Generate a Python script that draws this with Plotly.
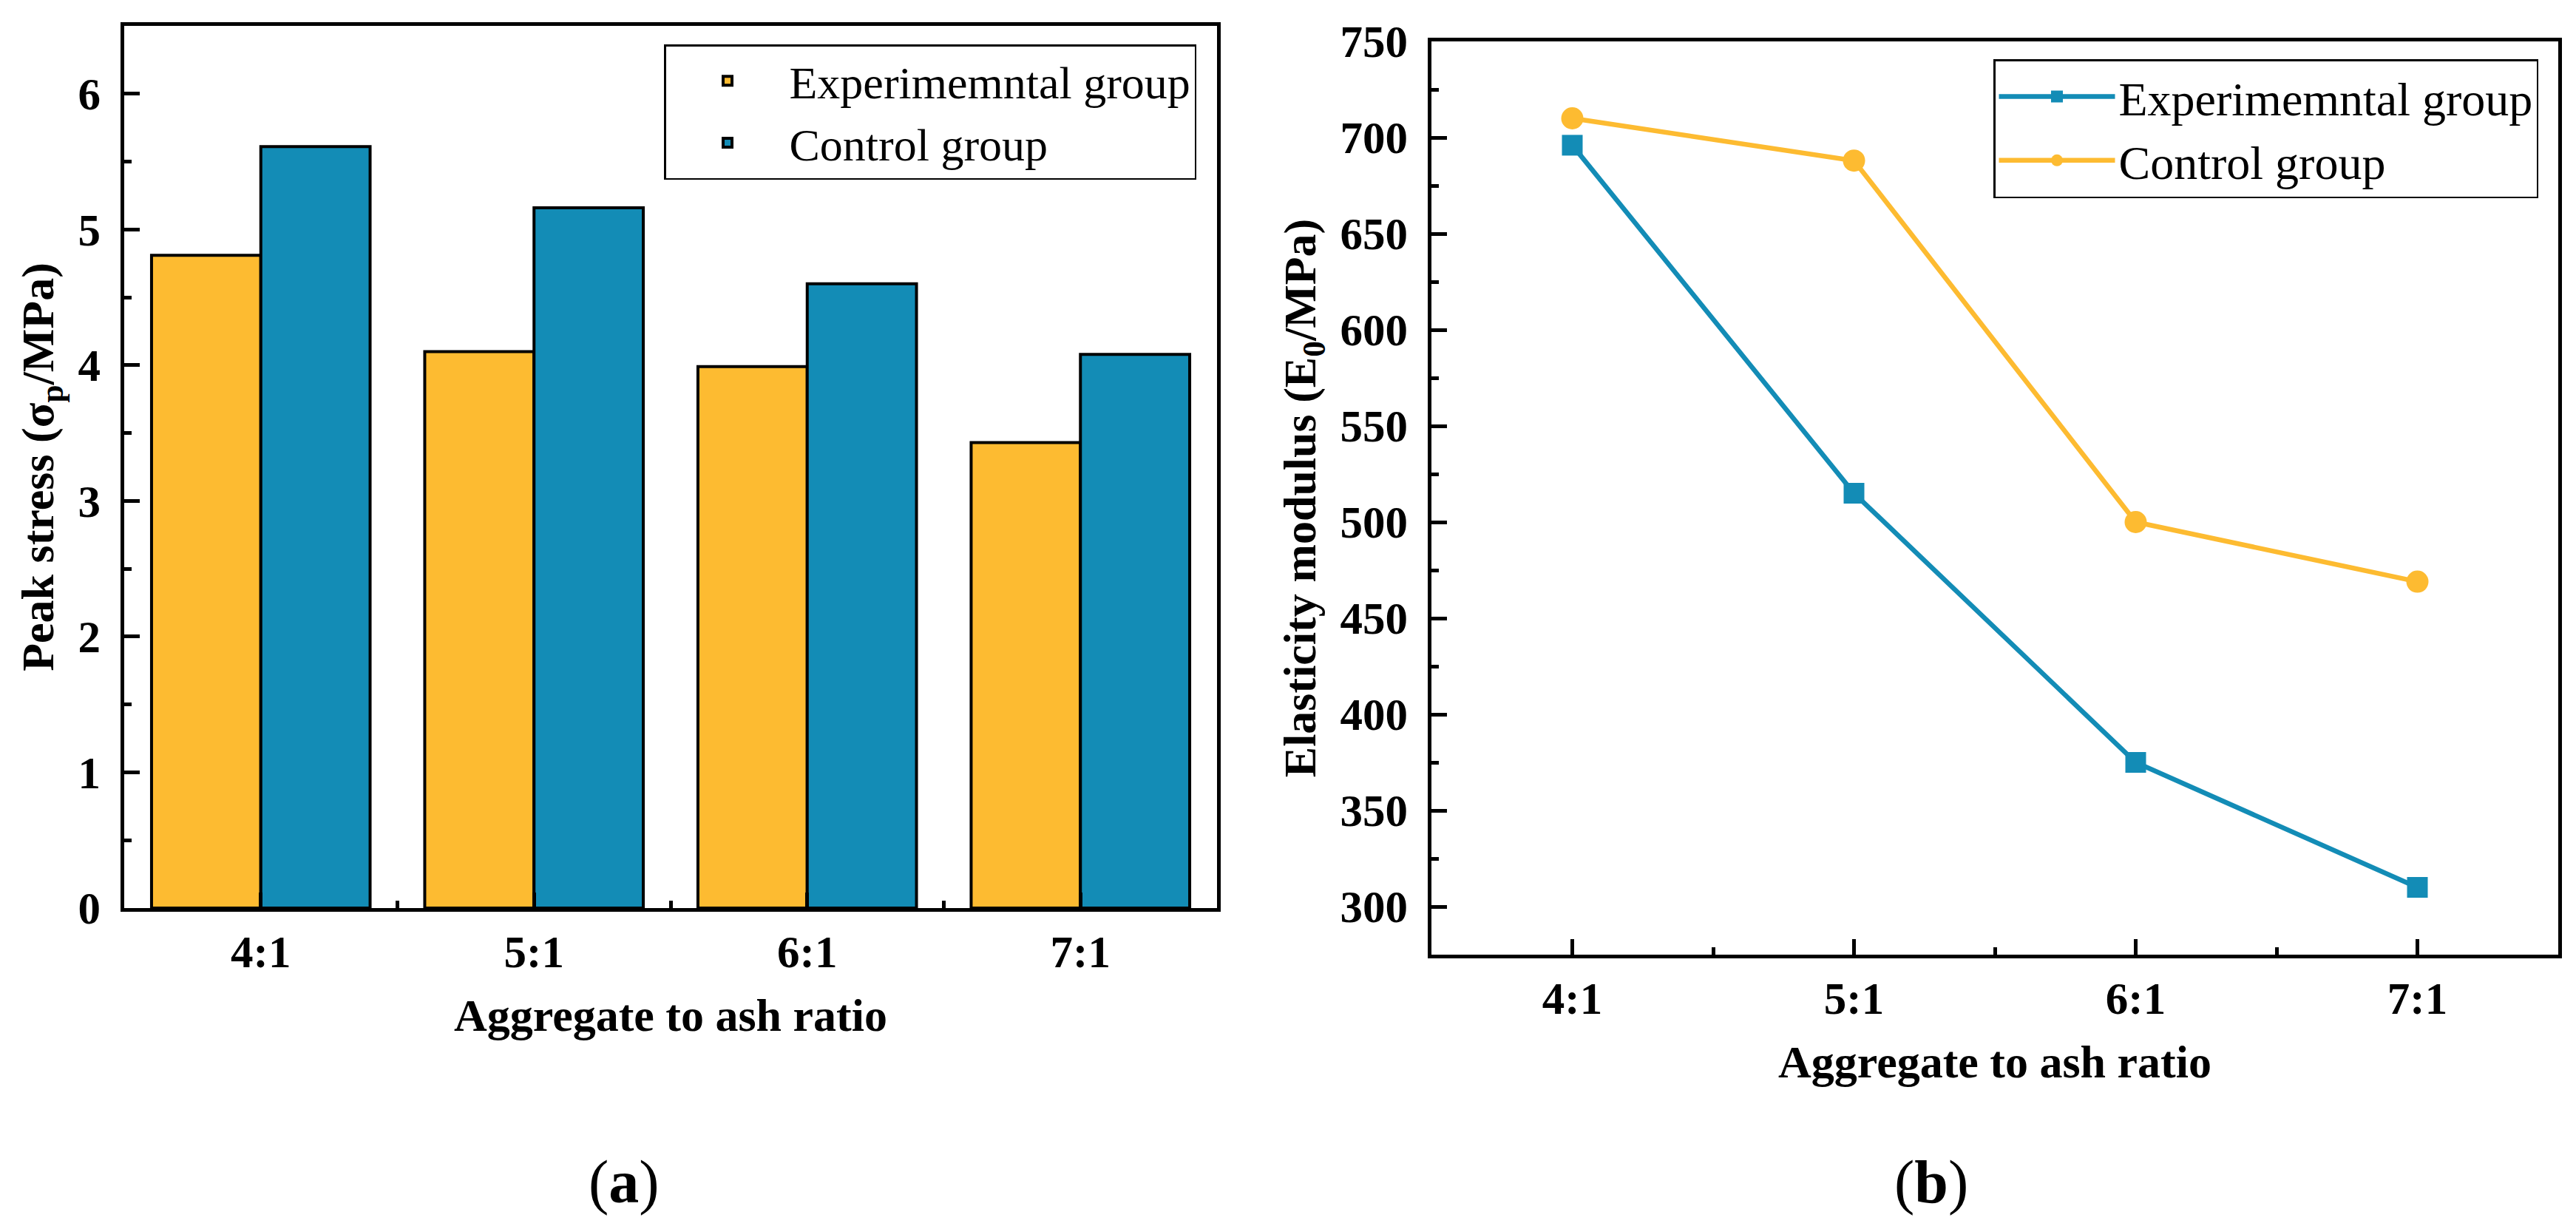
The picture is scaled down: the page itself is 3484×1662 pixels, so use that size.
import plotly.graph_objects as go

categories = ["4:1", "5:1", "6:1", "7:1"]
peak_exp = [4.81, 4.10, 3.99, 3.43]
peak_ctrl = [5.61, 5.16, 4.60, 4.08]
mod_exp = [696, 515, 375, 310]
mod_ctrl = [710, 688, 500, 469]
series_names = ["Experimemntal group", "Control group"]

ORANGE = "#FDBB31"
BLUE = "#138CB6"
FONT = "Liberation Serif, Times New Roman, serif"

# page body has a default 8px margin; size the figure so it fits the window exactly
OFF = 8
W, H = 3484 - 2 * OFF, 1662 - 2 * OFF


def fx(p):
    return (p - OFF) / W


def fy(p):
    return 1 - (p - OFF) / H


xpos = list(range(len(categories)))

fig = go.Figure()
fig.add_trace(go.Bar(x=xpos, y=peak_exp, name=series_names[0], marker=dict(color=ORANGE, line=dict(color="black", width=4)),
                     xaxis="x", yaxis="y", legend="legend"))
fig.add_trace(go.Bar(x=xpos, y=peak_ctrl, name=series_names[1], marker=dict(color=BLUE, line=dict(color="black", width=4)),
                     xaxis="x", yaxis="y", legend="legend"))
fig.add_trace(go.Scatter(x=xpos, y=mod_exp, name=series_names[0], mode="lines+markers",
                         line=dict(color=BLUE, width=6.5), marker=dict(symbol="square", size=28, color=BLUE),
                         xaxis="x2", yaxis="y2", legend="legend2"))
fig.add_trace(go.Scatter(x=xpos, y=mod_ctrl, name=series_names[1], mode="lines+markers",
                         line=dict(color=ORANGE, width=6.5), marker=dict(symbol="circle", size=30, color=ORANGE),
                         xaxis="x2", yaxis="y2", legend="legend2"))

tickfont = dict(family=FONT, size=61, color="black", weight="bold")
titlefont = dict(family=FONT, size=62, color="black", weight="bold")


def xax(domain, anchor):
    return dict(domain=domain, anchor=anchor, range=[-0.5, 3.5], tickmode="array", tickvals=xpos, ticktext=categories,
                ticks="inside", ticklen=21, tickwidth=4.5, tickcolor="black",
                minor=dict(tickmode="array", tickvals=[0.5, 1.5, 2.5], ticks="inside", ticklen=10, tickwidth=4.5, tickcolor="black"),
                showline=True, linecolor="black", linewidth=4.5, mirror=True, showgrid=False, zeroline=False,
                tickfont=tickfont, ticklabelstandoff=2, automargin=False,
                title=dict(text="Aggregate to ash ratio", font=titlefont, standoff=32))


def yax(domain, anchor, rng, dtick, mdtick, title):
    return dict(domain=domain, anchor=anchor, range=rng, tickmode="linear", tick0=0, dtick=dtick,
                ticks="inside", ticklen=21, tickwidth=4.5, tickcolor="black",
                minor=dict(tick0=0, dtick=mdtick, ticks="inside", ticklen=10, tickwidth=4.5, tickcolor="black"),
                showline=True, linecolor="black", linewidth=4.5, mirror=True, showgrid=False, zeroline=False,
                tickfont=tickfont, ticklabelstandoff=15, automargin=False,
                title=dict(text=title, font=titlefont, standoff=14))


def legend_common(size, itemwidth):
    return dict(font=dict(family=FONT, size=size, color="black"), bgcolor="white", bordercolor="black",
                borderwidth=2.5, itemwidth=itemwidth, xanchor="right", yanchor="top", tracegroupgap=0)


fig.update_layout(
    width=W, height=H, margin=dict(l=0, r=0, t=0, b=0, autoexpand=False),
    paper_bgcolor="white", plot_bgcolor="white",
    barmode="group", bargap=0.2, bargroupgap=0,
    xaxis=xax([fx(168), fx(1646)], "y"),
    yaxis=yax([fy(1228), fy(35)], "x", [0, 6.5], 1, 0.5, "Peak stress (σ<sub>p</sub>/MPa)"),
    xaxis2=xax([fx(1936), fx(3460)], "y2"),
    yaxis2=yax([fy(1291), fy(56)], "x2", [275, 750], 50, 25, "Elasticity modulus (E<sub>0</sub>/MPa)"),
    legend=dict(x=fx(1618), y=fy(60), **legend_common(62, 157)),
    legend2=dict(x=fx(3433), y=fy(80), **legend_common(64, 157)),
    annotations=[
        dict(text="(<b>a</b>)", x=fx(844), y=fy(1598), xref="paper", yref="paper", showarrow=False,
             xanchor="center", yanchor="middle", font=dict(family=FONT, size=82, color="black")),
        dict(text="(<b>b</b>)", x=fx(2612), y=fy(1598), xref="paper", yref="paper", showarrow=False,
             xanchor="center", yanchor="middle", font=dict(family=FONT, size=82, color="black")),
    ],
)

fig.write_html("out.html")
